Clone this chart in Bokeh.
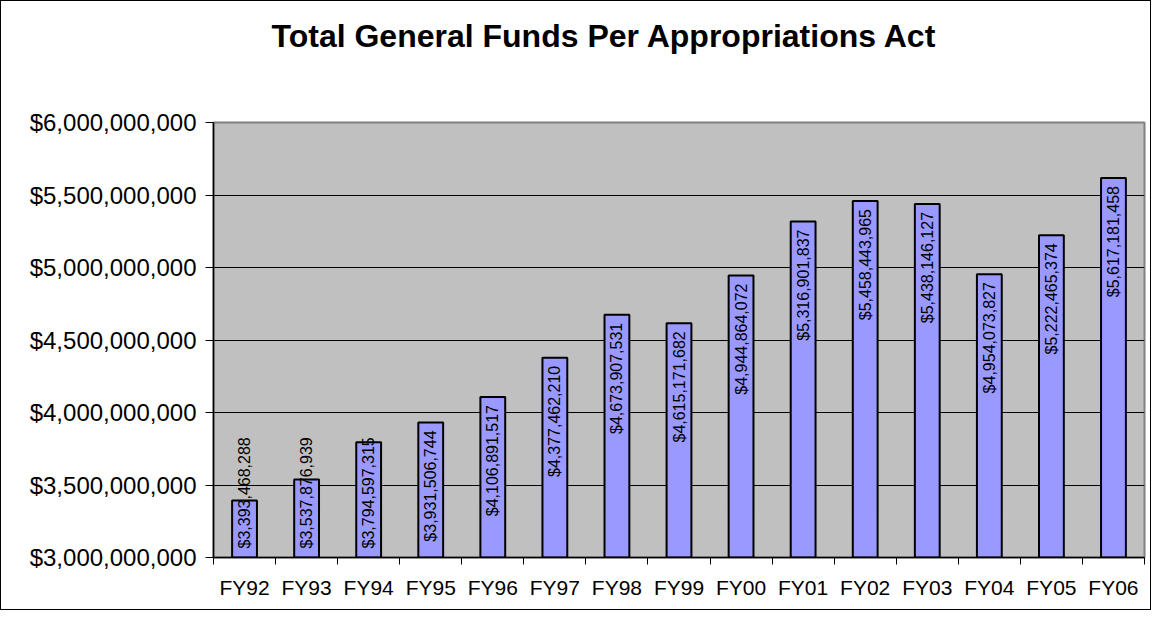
import numpy as np
from bokeh.plotting import figure
from bokeh.models import (ColumnDataSource, FixedTicker, NumeralTickFormatter,
                          Range1d, Title)
from bokeh.core.properties import value
from bokeh.embed import file_html
from bokeh.resources import INLINE

categories = ["FY92", "FY93", "FY94", "FY95", "FY96", "FY97", "FY98", "FY99",
              "FY00", "FY01", "FY02", "FY03", "FY04", "FY05", "FY06"]
values = [3393468288, 3537876939, 3794597315, 3931506744, 4106891517,
          4377462210, 4673907531, 4615171682, 4944864072, 5316901837,
          5458443965, 5438146127, 4954073827, 5222465374, 5617181458]
y_ticks = [3000000000, 3500000000, 4000000000, 4500000000, 5000000000,
           5500000000, 6000000000]
title_text = "Total General Funds Per Appropriations Act"

FONT = "Liberation Sans"
W, H = 1151, 610          # inner size (1px CSS border around)
ML, MR, MT, MB = 212, 8, 121, 54
y0, y1 = y_ticks[0], y_ticks[-1]

idx = np.arange(len(categories))
labels = ["${:,}".format(v) for v in values]

# label placement: inside end, unless the bar is too short (then inside base)
frame_h = H - MT - MB
px_per_unit = frame_h / (y1 - y0)
label_len_px = 112
bar_px = (np.array(values) - y0) * px_per_unit
tall = bar_px >= label_len_px + 18

src = ColumnDataSource(dict(x=idx, top=values, bottom=[y0] * len(values)))
src_tall = ColumnDataSource(dict(x=idx[tall], y=np.array(values)[tall],
                                 label=[l for l, t in zip(labels, tall) if t]))
src_short = ColumnDataSource(dict(x=idx[~tall], y=[y0] * int((~tall).sum()),
                                  label=[l for l, t in zip(labels, tall) if not t]))

p = figure(width=W, height=H, output_backend="svg", toolbar_location=None,
           x_range=Range1d(-0.5, len(categories) - 0.5), y_range=Range1d(y0, y1),
           min_border_left=ML, min_border_right=MR, min_border_top=MT,
           min_border_bottom=MB, background_fill_color="#C0C0C0",
           border_fill_color="white", outline_line_color="#808080",
           outline_line_width=2,
           styles={"border": "1px solid black"})

p.vbar(x="x", top="top", bottom="bottom", width=0.4, source=src,
       fill_color="#9999FF", line_color="black", line_width=2)

p.text(x="x", y="y", text="label", source=src_tall, angle=np.pi / 2,
       text_align="right", text_baseline="middle", y_offset=8,
       text_font=value(FONT), text_font_size="16px", text_color="black")
p.text(x="x", y="y", text="label", source=src_short, angle=np.pi / 2,
       text_align="left", text_baseline="middle", y_offset=-9,
       text_font=value(FONT), text_font_size="16px", text_color="black")

# axes
p.xgrid.visible = False
p.ygrid.ticker = FixedTicker(ticks=y_ticks)
p.ygrid.grid_line_color = "black"
p.ygrid.grid_line_width = 1

p.yaxis.ticker = FixedTicker(ticks=y_ticks)
p.yaxis.formatter = NumeralTickFormatter(format="$0,0")
p.yaxis.major_label_text_font = FONT
p.yaxis.major_label_text_font_size = "24px"
p.yaxis.major_label_text_color = "black"
p.yaxis.major_tick_out = 8
p.yaxis.major_tick_in = 0
p.yaxis.minor_tick_line_color = None
p.yaxis.major_label_standoff = 9
p.yaxis.axis_line_color = "black"
p.yaxis.axis_line_width = 1.5

p.xaxis.ticker = FixedTicker(ticks=list(idx),
                             minor_ticks=list(np.arange(len(categories) + 1) - 0.5))
p.xaxis.major_label_overrides = {int(i): c for i, c in zip(idx, categories)}
p.xaxis.major_tick_out = 0
p.xaxis.major_tick_in = 0
p.xaxis.minor_tick_out = 7
p.xaxis.minor_tick_in = 0
p.xaxis.minor_tick_line_color = "black"
p.xaxis.major_label_standoff = 11
p.xaxis.major_label_text_font = FONT
p.xaxis.major_label_text_font_size = "21px"
p.xaxis.major_label_text_color = "black"
p.xaxis.axis_line_color = "black"
p.xaxis.axis_line_width = 1.5

# spacer panel next to the frame, then the title above it
spacer = Title(text=" ", standoff=56, text_font=FONT, text_font_size="10px")
p.add_layout(spacer, "above")
title = Title(text=title_text, align="left", offset=58, standoff=0,
              text_font=FONT, text_font_size="32px", text_font_style="bold",
              text_color="black")
p.add_layout(title, "above")

open("out.html", "w").write(file_html(p, INLINE))
